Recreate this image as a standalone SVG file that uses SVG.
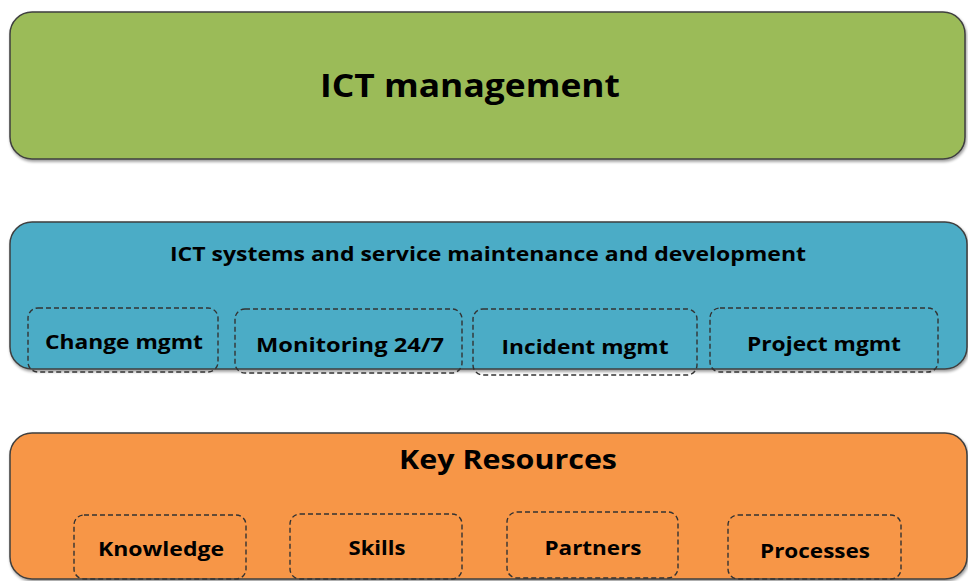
<svg xmlns="http://www.w3.org/2000/svg" width="968" height="581" viewBox="0 0 968 581">
<defs>
<filter id="sh" x="-5%" y="-5%" width="110%" height="120%">
<feGaussianBlur in="SourceAlpha" stdDeviation="1.5"/>
<feOffset dx="1" dy="2" result="o"/>
<feComponentTransfer><feFuncA type="linear" slope="0.4"/></feComponentTransfer>
<feMerge><feMergeNode/><feMergeNode in="SourceGraphic"/></feMerge>
</filter>
</defs>
<style>
.big{stroke:#3f3f3f;stroke-width:1.5;filter:url(#sh)}
.sub{fill:none;stroke:#333;stroke-width:1.4;stroke-dasharray:5 3}
text{font-family:"Open Sans","Noto Sans","Liberation Sans",sans-serif;font-weight:bold;fill:#000;text-anchor:middle;dominant-baseline:central}
.t1{font-size:33px}
.t2{font-size:20px}
.t3{font-size:27px}
.s{font-size:19px}
</style>
<g id="ict-management">
<rect class="big" x="10" y="12" width="955" height="147" rx="22" fill="#9BBB59"/>
<text class="t1" x="470" y="84" textLength="300" lengthAdjust="spacingAndGlyphs">ICT management</text>
</g>
<g id="ict-systems">
<rect class="big" x="10" y="222" width="957" height="147" rx="22" fill="#4BACC6"/>
<text class="t2" x="488" y="253" textLength="636" lengthAdjust="spacingAndGlyphs">ICT systems and service maintenance and development</text>
</g>
<g id="change-mgmt">
<rect class="sub" x="28" y="308" width="190" height="64" rx="10"/>
<text class="s" x="124" y="342" textLength="158" lengthAdjust="spacingAndGlyphs">Change mgmt</text>
</g>
<g id="monitoring">
<rect class="sub" x="235" y="309" width="227" height="64" rx="10"/>
<text class="s" x="350" y="345" textLength="188" lengthAdjust="spacingAndGlyphs">Monitoring 24/7</text>
</g>
<g id="incident-mgmt">
<rect class="sub" x="473" y="309" width="224" height="66" rx="10"/>
<text class="s" x="585" y="347" textLength="167" lengthAdjust="spacingAndGlyphs">Incident mgmt</text>
</g>
<g id="project-mgmt">
<rect class="sub" x="710" y="308" width="228" height="64" rx="10"/>
<text class="s" x="824" y="344" textLength="154" lengthAdjust="spacingAndGlyphs">Project mgmt</text>
</g>
<g id="key-resources">
<rect class="big" x="10" y="433" width="957" height="146" rx="22" fill="#F79646"/>
<text class="t3" x="508" y="458" textLength="218" lengthAdjust="spacingAndGlyphs">Key Resources</text>
</g>
<g id="knowledge">
<rect class="sub" x="74" y="515" width="172" height="64" rx="10"/>
<text class="s" x="161" y="549" textLength="126" lengthAdjust="spacingAndGlyphs">Knowledge</text>
</g>
<g id="skills">
<rect class="sub" x="290" y="514" width="172" height="65" rx="10"/>
<text class="s" x="377" y="548" textLength="57" lengthAdjust="spacingAndGlyphs">Skills</text>
</g>
<g id="partners">
<rect class="sub" x="507" y="512" width="171" height="66" rx="10"/>
<text class="s" x="593" y="548" textLength="97" lengthAdjust="spacingAndGlyphs">Partners</text>
</g>
<g id="processes">
<rect class="sub" x="728" y="515" width="173" height="64" rx="10"/>
<text class="s" x="815" y="551" textLength="110" lengthAdjust="spacingAndGlyphs">Processes</text>
</g>
<g id="connectors"/>
</svg>
